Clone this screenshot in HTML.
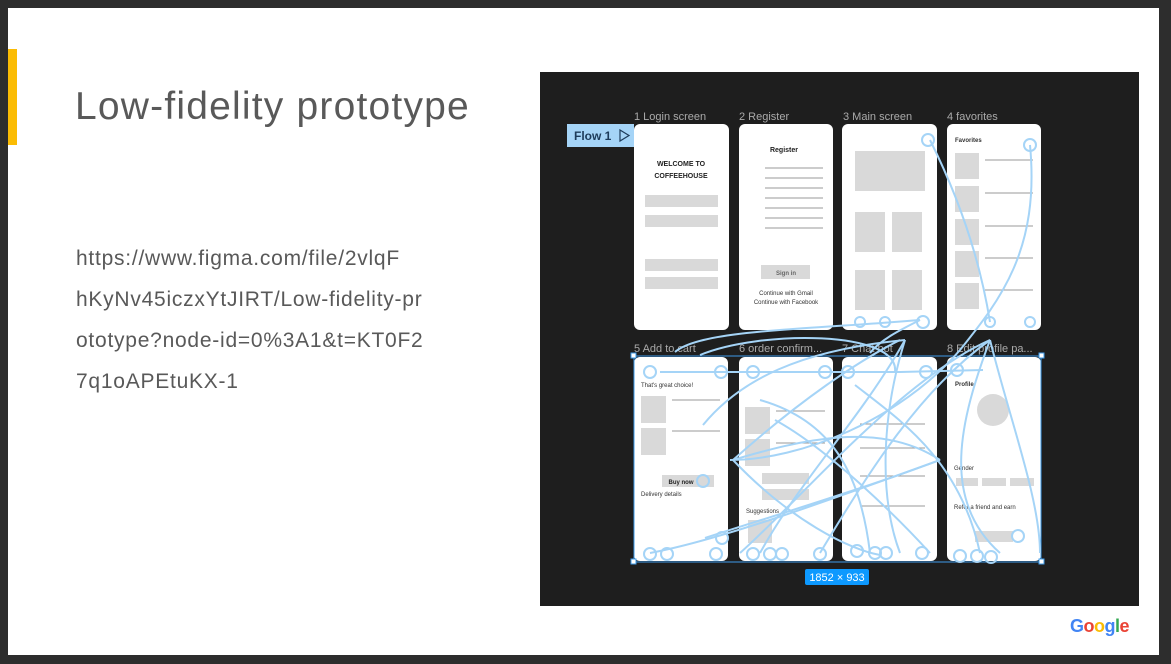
<!DOCTYPE html>
<html><head><meta charset="utf-8"><style>
*{margin:0;padding:0;box-sizing:border-box}
body{width:1171px;height:664px;background:#2d2d2d;position:relative;overflow:hidden;font-family:"Liberation Sans",sans-serif}
.slide{position:absolute;left:8px;top:8px;width:1151px;height:647px;background:#fff}
.bar{position:absolute;left:8px;top:49px;width:9px;height:96px;background:#fbbc04}
h1{position:absolute;left:75px;top:85px;font-weight:normal;font-size:39px;color:#595959;letter-spacing:1.2px}
.url{position:absolute;left:76px;top:238px;font-size:21px;line-height:41px;color:#595959;letter-spacing:0.75px}
.fig{position:absolute;left:540px;top:72px;width:599px;height:534px;background:#1e1e1e}
.g{position:absolute;left:1070px;top:616px;font-size:18px;font-weight:bold;letter-spacing:-0.5px}
</style></head><body>
<div class="slide"></div>
<div class="bar"></div>
<h1>Low-fidelity prototype</h1>
<div class="url">https://www.figma.com/file/2vlqF<br>hKyNv45iczxYtJIRT/Low-fidelity-pr<br>ototype?node-id=0%3A1&amp;t=KT0F2<br>7q1oAPEtuKX-1</div>
<div class="fig"></div>
<svg style="position:absolute;left:0;top:0" width="1171" height="664" font-family="Liberation Sans, sans-serif">
<g fill="#aaa" font-size="11">
<text x="634" y="120">1 Login screen</text><text x="739" y="120">2 Register</text>
<text x="843" y="120">3 Main screen</text><text x="947" y="120">4 favorites</text>
<text x="634" y="352">5 Add to cart</text><text x="739" y="352">6 order confirm...</text>
<text x="842" y="352">7 Chat bot</text><text x="947" y="352">8 Edit profile pa...</text>
</g>
<rect x="567" y="124" width="67" height="23" fill="#a5d4f7"/>
<text x="574" y="140" font-size="12" font-weight="bold" fill="#1d3b5a">Flow 1</text>
<path d="M620 130 L629 135.5 L620 141Z" fill="none" stroke="#1d3b5a" stroke-width="1.2"/>
<g fill="#fff">
<rect x="634" y="124" width="95" height="206" rx="6"/><rect x="739" y="124" width="94" height="206" rx="6"/>
<rect x="842" y="124" width="95" height="206" rx="6"/><rect x="947" y="124" width="94" height="206" rx="6"/>
<rect x="634" y="357" width="94" height="204" rx="6"/><rect x="739" y="357" width="94" height="204" rx="6"/>
<rect x="842" y="357" width="95" height="204" rx="6"/><rect x="947" y="357" width="94" height="204" rx="6"/>
</g>
<g fill="#d9d9d9">
<rect x="645" y="195" width="73" height="12"/><rect x="645" y="215" width="73" height="12"/>
<rect x="645" y="259" width="73" height="12"/><rect x="645" y="277" width="73" height="12"/>
<rect x="761" y="265" width="49" height="14"/>
<rect x="855" y="151" width="70" height="40"/><rect x="855" y="212" width="30" height="40"/><rect x="892" y="212" width="30" height="40"/>
<rect x="855" y="270" width="30" height="40"/><rect x="892" y="270" width="30" height="40"/>
<rect x="955" y="153" width="24" height="26"/><rect x="955" y="186" width="24" height="26"/><rect x="955" y="219" width="24" height="26"/><rect x="955" y="251" width="24" height="26"/><rect x="955" y="283" width="24" height="26"/>
<rect x="641" y="396" width="25" height="27"/><rect x="641" y="428" width="25" height="27"/><rect x="662" y="475" width="52" height="12"/>
<rect x="745" y="407" width="25" height="27"/><rect x="745" y="439" width="25" height="27"/><rect x="762" y="473" width="47" height="11"/><rect x="762" y="489" width="47" height="11"/><rect x="748" y="520" width="24" height="23"/>
<circle cx="993" cy="410" r="16"/><rect x="956" y="478" width="22" height="8"/><rect x="982" y="478" width="24" height="8"/><rect x="1010" y="478" width="24" height="8"/><rect x="975" y="531" width="38" height="11"/>
</g>
<g font-size="7" font-weight="bold" fill="#222" text-anchor="middle">
<text x="681" y="166">WELCOME TO</text><text x="681" y="178">COFFEEHOUSE</text>
<text x="784" y="152">Register</text><text x="786" y="275" font-size="6" fill="#666">Sign in</text>
<text x="681" y="484" font-size="6">Buy now</text>
</g>
<g font-size="6" fill="#333" text-anchor="middle"><text x="786" y="295">Continue with Gmail</text><text x="786" y="304">Continue with Facebook</text></g>
<g font-size="6" fill="#333"><text x="955" y="142" font-weight="bold">Favorites</text><text x="955" y="386" font-weight="bold">Profile</text><text x="641" y="387">That's great choice!</text><text x="641" y="496">Delivery details</text><text x="954" y="470">Gender</text><text x="954" y="509">Refer a friend and earn</text><text x="746" y="513">Suggestions</text></g>
<g stroke="#999" stroke-width="1">
<line x1="765" y1="168" x2="823" y2="168"/><line x1="765" y1="178" x2="823" y2="178"/><line x1="765" y1="188" x2="823" y2="188"/><line x1="765" y1="198" x2="823" y2="198"/><line x1="765" y1="208" x2="823" y2="208"/><line x1="765" y1="218" x2="823" y2="218"/><line x1="765" y1="228" x2="823" y2="228"/>
<line x1="985" y1="160" x2="1033" y2="160"/><line x1="985" y1="193" x2="1033" y2="193"/><line x1="985" y1="226" x2="1033" y2="226"/><line x1="985" y1="258" x2="1033" y2="258"/><line x1="985" y1="290" x2="1033" y2="290"/>
<line x1="672" y1="400" x2="720" y2="400"/><line x1="672" y1="431" x2="720" y2="431"/><line x1="776" y1="411" x2="825" y2="411"/><line x1="776" y1="443" x2="825" y2="443"/>
<line x1="860" y1="424" x2="925" y2="424"/><line x1="860" y1="448" x2="925" y2="448"/><line x1="860" y1="476" x2="925" y2="476"/><line x1="860" y1="506" x2="925" y2="506"/>
</g>
<rect x="634" y="356" width="407" height="206" fill="none" stroke="#3d9be9" stroke-width="1"/>
<g fill="none" stroke="#a5d4f7" stroke-width="2">
<path d="M675 352 C700 330 800 330 920 320"/><path d="M930 140 C960 200 980 260 990 322"/>
<path d="M1030 145 C1040 250 1000 300 960 350 C900 420 800 460 730 460"/>
<path d="M660 372 L800 372 L900 372 L983 370"/>
<path d="M895 372 C900 330 760 330 700 355"/>
<path d="M733 460 C800 400 860 360 900 340"/><path d="M733 460 C800 440 880 420 940 460"/>
<path d="M733 460 C790 520 850 550 880 555"/><path d="M740 553 C800 500 900 380 990 340"/>
<path d="M650 553 C720 540 830 500 940 460"/><path d="M905 340 C880 420 880 500 900 553"/>
<path d="M990 340 C960 420 940 500 1000 553"/><path d="M990 340 C1010 420 1040 500 1040 553"/>
<path d="M760 553 C800 480 860 420 905 340"/><path d="M820 553 C870 470 920 390 990 340"/>
<path d="M705 538 C760 520 860 490 940 460"/><path d="M703 425 C740 380 800 350 905 340"/>
<path d="M855 385 C900 420 960 460 980 553"/><path d="M775 420 C830 450 900 520 930 553"/>
<path d="M870 553 C860 470 830 420 760 400"/><path d="M920 320 C900 330 880 340 870 353"/>
</g>
<g fill="none" stroke="#a5d4f7" stroke-width="2">
<circle cx="928" cy="140" r="6"/><circle cx="1030" cy="145" r="6"/><circle cx="860" cy="322" r="5"/><circle cx="885" cy="322" r="5"/><circle cx="923" cy="322" r="6"/><circle cx="990" cy="322" r="5"/><circle cx="1030" cy="322" r="5"/>
<circle cx="650" cy="372" r="6"/><circle cx="721" cy="372" r="6"/><circle cx="753" cy="372" r="6"/><circle cx="825" cy="372" r="6"/><circle cx="848" cy="372" r="6"/><circle cx="926" cy="372" r="6"/><circle cx="957" cy="370" r="6"/>
<circle cx="703" cy="481" r="6"/><circle cx="722" cy="538" r="6"/><circle cx="1018" cy="536" r="6"/>
<circle cx="650" cy="554" r="6"/><circle cx="667" cy="554" r="6"/><circle cx="716" cy="554" r="6"/><circle cx="753" cy="554" r="6"/><circle cx="770" cy="554" r="6"/><circle cx="782" cy="554" r="6"/><circle cx="820" cy="554" r="6"/>
<circle cx="857" cy="551" r="6"/><circle cx="875" cy="553" r="6"/><circle cx="886" cy="553" r="6"/><circle cx="922" cy="553" r="6"/><circle cx="960" cy="556" r="6"/><circle cx="977" cy="556" r="6"/><circle cx="991" cy="557" r="6"/>
</g>
<g fill="#fff" stroke="#3d9be9"><rect x="631" y="353" width="5" height="5"/><rect x="1039" y="353" width="5" height="5"/><rect x="631" y="559" width="5" height="5"/><rect x="1039" y="559" width="5" height="5"/></g>
<rect x="805" y="569" width="64" height="16" rx="2" fill="#0d99ff"/>
<text x="837" y="581" font-size="11" fill="#fff" text-anchor="middle">1852 × 933</text>
</svg>
<div class="g"><span style="color:#4285f4">G</span><span style="color:#ea4335">o</span><span style="color:#fbbc05">o</span><span style="color:#4285f4">g</span><span style="color:#34a853">l</span><span style="color:#ea4335">e</span></div>
</body></html>
